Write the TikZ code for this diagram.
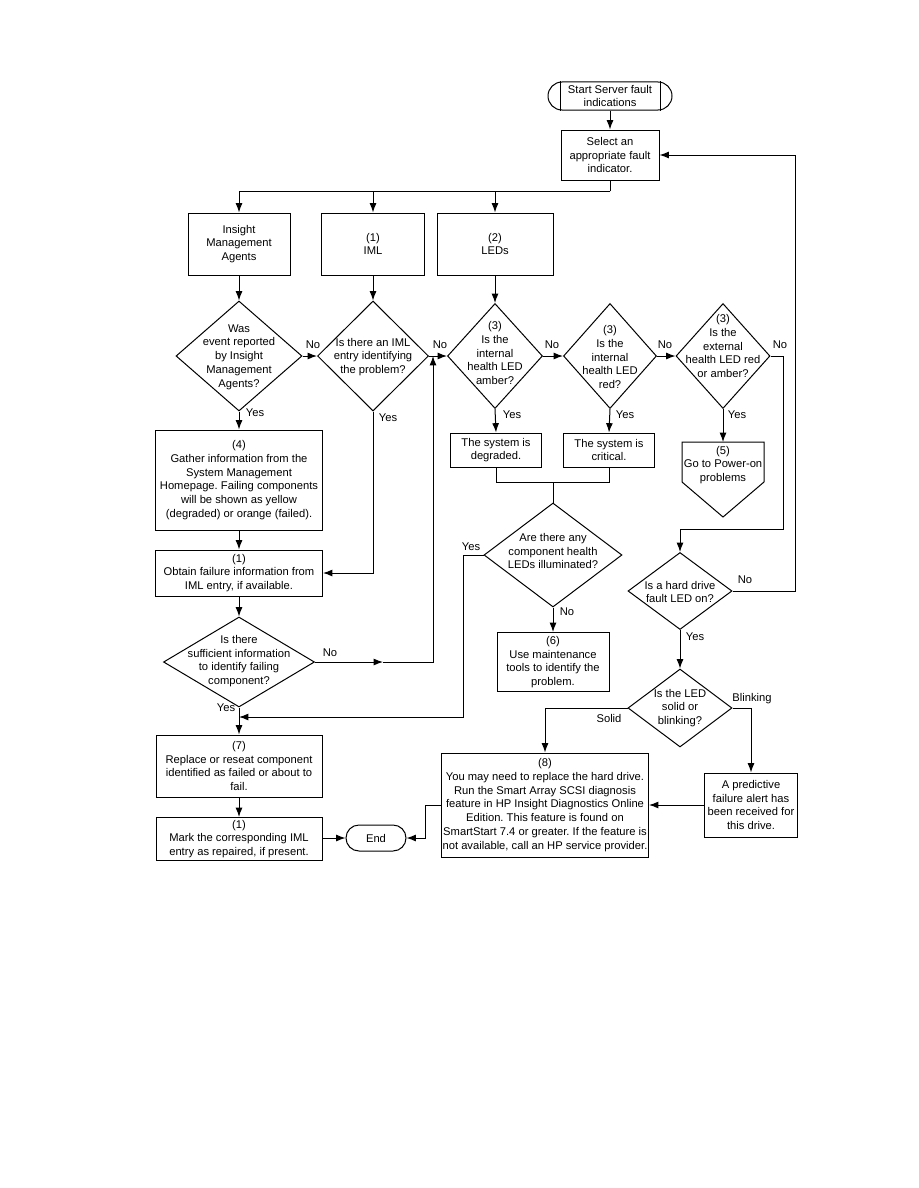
\documentclass[tikz,border=0pt]{standalone}
\usepackage{fontspec}
\setmainfont{Liberation Sans}
\usetikzlibrary{shapes.geometric,arrows.meta,calc}
\frenchspacing
\begin{document}
\begin{tikzpicture}[x=0.75pt,y=-0.75pt,
  font=\fontsize{8.4}{10.3}\selectfont,
  line width=0.75pt,
  sz/.style 2 args={minimum width=#1*0.75pt, minimum height=#2*0.75pt},
  box/.style={draw, rectangle, inner sep=0pt, align=center},
  dia/.style={draw, diamond, inner sep=0pt},
  txt/.style={inner sep=0pt, align=center},
  lbl/.style={inner sep=0pt},
  arr/.style={-{Latex[length=7pt,width=5.2pt]}},
]
\useasboundingbox (0,0) rectangle (918,1188);

% ---------- nodes ----------
\node[box,sz={124}{28},rounded corners=10.5pt] (start) at (610,96) {Start Server fault\\indications};
\draw ($(start.north west)+(13,0)$) -- ($(start.south west)+(13,0)$);
\draw ($(start.north east)+(-12,0)$) -- ($(start.south east)+(-12,0)$);

\node[box,sz={98}{50}] (select) at (610,155) {Select an\\appropriate fault\\indicator.};

\node[box,sz={102}{62}] (insight) at (239,244) {Insight\\Management\\Agents};
\node[box,sz={103}{62}] (iml) at (373,244) {(1)\\IML};
\node[box,sz={116}{62}] (leds) at (495,244) {(2)\\LEDs};

\node[dia,sz={126}{110}] (d1) at (239,356) {};
\node[txt] (d1t) at (239,357) {Was\\event reported\\by Insight\\Management\\Agents?};
\node[dia,sz={111}{110}] (d2) at (373,356) {};
\node[txt] (d2t) at (373,357) {Is there an IML\\entry identifying\\the problem?};
\node[dia,sz={95}{105}] (d3) at (495,356) {};
\node[txt] (d3t) at (495,353) {(3)\\Is the\\internal\\health LED\\amber?};
\node[dia,sz={93}{105}] (d4) at (610,356) {};
\node[txt] (d4t) at (610,357) {(3)\\Is the\\internal\\health LED\\red?};
\node[dia,sz={94}{105}] (d5) at (723,356) {};
\node[txt] (d5t) at (723,346) {(3)\\Is the\\external\\health LED red\\or amber?};

\node[box,sz={91}{34}] (deg) at (496,450) {The system is\\degraded.};
\node[box,sz={91}{34}] (crit) at (609,450) {The system is\\critical.};

\draw (682,442) coordinate (pNW) -- (764,442) coordinate (pNE) -- (764,482) -- (723,517) -- (682,482) -- cycle;
\coordinate (ptop) at (723,442);
\node[txt] (pent) at (723,465) {(5)\\Go to Power-on\\problems};

\node[dia,sz={138}{104}] (d6) at (553,555) {};
\node[txt] (d6t) at (553,551) {Are there any\\component health\\LEDs illuminated?};
\node[box,sz={112}{59}] (box6) at (553,662) {(6)\\Use maintenance\\tools to identify the\\problem.};

\node[dia,sz={104}{77}] (d7) at (680,591) {};
\node[txt] (d7t) at (680,592) {Is a hard drive\\fault LED on?};
\node[dia,sz={104}{78}] (d8) at (680,708) {};
\node[txt] (d8t) at (680,708) {Is the LED\\solid or\\blinking?};

\node[box,sz={207}{104}] (box8) at (545,805) {(8)\\You may need to replace the hard drive.\\Run the Smart Array SCSI diagnosis\\feature in HP Insight Diagnostics Online\\Edition. This feature is found on\\SmartStart 7.4 or greater. If the feature is\\not available, call an HP service provider.};
\node[box,sz={93}{64}] (pred) at (751,805) {A predictive\\failure alert has\\been received for\\this drive.};

\node[box,sz={167}{100}] (box4) at (239,480) {(4)\\Gather information from the\\System Management\\Homepage. Failing components\\will be shown as yellow\\(degraded) or orange (failed).};
\node[box,sz={167}{46}] (box1) at (239,573) {(1)\\Obtain failure information from\\IML entry, if available.};
\node[dia,sz={151}{90}] (d9) at (239,662) {};
\node[txt] (d9t) at (239,661) {Is there\\sufficient information\\to identify failing\\component?};
\node[box,sz={166}{62}] (box7) at (239,766) {(7)\\Replace or reseat component\\identified as failed or about to\\fail.};
\node[box,sz={166}{43}] (mark) at (239,839) {(1)\\Mark the corresponding IML\\entry as repaired, if present.};
\node[box,sz={60}{26},rounded corners=9.75pt] (end) at (376,838) {End};

% ---------- connectors ----------
\draw[arr] (start.south) -- (select.north);
\coordinate (j1) at (610,191);
\draw (select.south) -- (j1);
\draw[arr] (j1) -| (insight.north);
\draw[arr] (j1) -| (iml.north);
\draw[arr] (j1) -| (leds.north);

\draw[arr] (insight.south) -- (d1.north);
\draw[arr] (iml.south) -- (d2.north);
\draw[arr] (leds.south) -- (d3.north);

\draw[arr] (d1.east) -- (d2.west);
\draw[arr] (d2.east) -- (d3.west);
\draw[arr] (d3.east) -- (d4.west);
\draw[arr] (d4.east) -- (d5.west);

\coordinate (r1) at (783,356);
\coordinate (r2) at (783,529);
\draw[arr] (d5.east) -- (r1) -- (r2) -| (d7.north);
\coordinate (r3) at (795,591);
\draw[arr] (d7.east) -- (r3) |- (select.east);

\draw[arr] (d3.south) -- (deg.north);
\draw[arr] (d4.south) -- (crit.north);
\draw[arr] (d5.south) -- (ptop);

\coordinate (m1) at (496,482);
\coordinate (m2) at (609,482);
\coordinate (m3) at (553,482);
\draw (deg.south) -- (m1) -- (m2) -- (crit.south);
\draw (m3) -- (d6.north);
\draw[arr] (d6.south) -- (box6.north);

\coordinate (y6a) at (463,555);
\coordinate (y6b) at (463,717);
\coordinate (y6c) at (239,717);
\draw[arr] (d6.west) -- (y6a) -- (y6b) -- (y6c);

\draw[arr] (d1.south) -- (box4.north);
\draw[arr] (d2.south) |- (box1.east);
\draw[arr] (box4.south) -- (box1.north);
\draw[arr] (box1.south) -- (d9.north);

\coordinate (n9a) at (383,662);
\coordinate (n9b) at (433,662);
\coordinate (n9c) at (433,356);
\draw[arr] (d9.east) -- (n9a);
\draw[arr] (n9a) -- (n9b) -- (n9c);

\draw[arr] (d9.south) -- (box7.north);
\draw[arr] (box7.south) -- (mark.north);
\draw[arr] (mark.east |- end.west) -- (end.west);

\draw[arr] (d7.south) -- (d8.north);
\draw[arr] (d8.west) -| (box8.north);
\draw[arr] (d8.east) -| (pred.north);
\draw[arr] (pred.west) -- (box8.east);
\coordinate (e1) at (425,805);
\draw[arr] (box8.west) -- (e1) |- (end.east);

% ---------- labels ----------
\node[lbl] (l1) at (313,345) {No};
\node[lbl] (l2) at (440,345) {No};
\node[lbl] (l3) at (552,345) {No};
\node[lbl] (l4) at (665,345) {No};
\node[lbl] (l5) at (780,345) {No};
\node[lbl] (l6) at (255,413) {Yes};
\node[lbl] (l7) at (388,418) {Yes};
\node[lbl] (l8) at (512,415) {Yes};
\node[lbl] (l9) at (625,415) {Yes};
\node[lbl] (l10) at (737,415) {Yes};
\node[lbl] (l11) at (471,547) {Yes};
\node[lbl] (l12) at (567,612) {No};
\node[lbl] (l13) at (745,580) {No};
\node[lbl] (l14) at (695,637) {Yes};
\node[lbl] (l15) at (609,718) {Solid};
\node[lbl] (l16) at (752,699) {Blinking};
\node[lbl] (l17) at (330,653) {No};
\node[lbl] (l18) at (226,708) {Yes};
\end{tikzpicture}
\end{document}
